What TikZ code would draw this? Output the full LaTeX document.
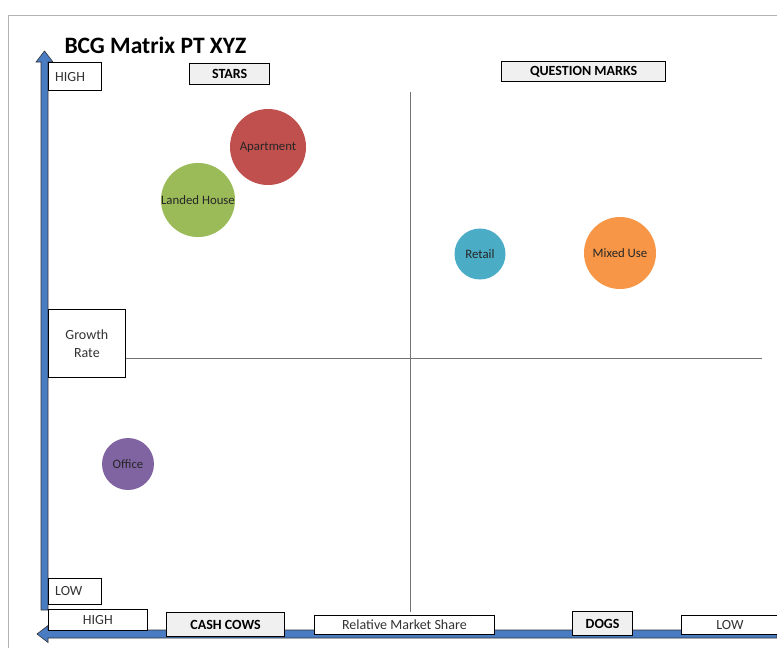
\documentclass[tikz,border=0pt]{standalone}
\usepackage{fontspec}
\setmainfont{Carlito}
\begin{document}
\begin{tikzpicture}[x=1pt,y=-1pt,
  lbl/.style={draw=black, line width=0.8pt, fill=white, inner sep=0pt, font=\fontsize{14}{15}\selectfont, text=black!80},
  head/.style={draw=black, line width=1.2pt, fill=black!6, inner sep=0pt, font=\bfseries\fontsize{14}{15}\selectfont},
  bubble/.style={circle, inner sep=0pt, font=\fontsize{12.8}{14}\selectfont, text=black!85},
  axis/.style={draw=black!80, line width=0.6pt, fill=axisblue},
  divider/.style={draw=black!55, line width=0.7pt}]
\definecolor{axisblue}{HTML}{4A7CC4}
\definecolor{cRed}{HTML}{C0504D}
\definecolor{cGreen}{HTML}{9BBB59}
\definecolor{cBlue}{HTML}{4BACC6}
\definecolor{cOrange}{HTML}{F79646}
\definecolor{cPurple}{HTML}{8064A2}
\useasboundingbox (0,0) rectangle (777,648);
\fill[white] (0,0) rectangle (777,648);
% frame
\draw[black!30, line width=0.8pt] (777,15) -- (8,15) -- (8,648);

% title
\node[anchor=west, font=\bfseries\fontsize{23.5}{26}\selectfont] (title) at (61,45) {BCG Matrix PT XYZ};

% quadrant dividers
\coordinate (vtop) at (410,92);
\coordinate (vbot) at (410,612);
\coordinate (hleft) at (125,358);
\coordinate (hright) at (762,358);
\draw[divider] (vtop) -- (vbot);
\draw[divider] (hleft) -- (hright);

% vertical axis arrow (growth rate)
\draw[axis] (41,610) -- (41,62) -- (36,62) -- (44.5,51) -- (53,62) -- (48,62) -- (48,610) -- cycle;
% horizontal axis arrow (relative market share)
\draw[axis] (777,630) -- (48,630) -- (48,625.5) -- (37,634) -- (48,642.5) -- (48,638) -- (777,638) -- cycle;

% axis labels
\node[lbl, minimum width=53, minimum height=28, anchor=north west] (hiY) at (48,62) {};
\node[anchor=west, inner sep=0pt, font=\fontsize{14}{15}\selectfont, text=black!80] at (55,77) {HIGH};
\node[lbl, minimum width=77, minimum height=68, anchor=north west, align=center] (growth) at (48,309) {Growth\\[3pt]Rate};
\node[lbl, minimum width=53, minimum height=26, anchor=north west] (loY) at (48,578) {};
\node[anchor=west, inner sep=0pt, font=\fontsize{14}{15}\selectfont, text=black!80] at (55,591) {LOW};
\node[lbl, minimum width=99, minimum height=21, anchor=north west] (hiX) at (48,609) {HIGH};
\node[lbl, minimum width=180, minimum height=19, anchor=north west] (rms) at (314,615) {Relative Market Share};
\node[lbl, minimum width=97, minimum height=19, anchor=north west] (loX) at (681,615) {LOW};

% quadrant headings
\node[head, minimum width=80, minimum height=21, anchor=north west] (stars) at (189,63) {STARS};
\node[head, minimum width=164, minimum height=20, anchor=north west] (qm) at (501,61) {QUESTION MARKS};
\node[head, minimum width=118, minimum height=24, anchor=north west] (cows) at (166,612) {CASH COWS};
\node[head, minimum width=60, minimum height=24, anchor=north west] (dogs) at (572,611) {DOGS};

% portfolio bubbles
\node[bubble, fill=cRed, minimum size=76] (apt) at (268,147) {Apartment};
\node[bubble, fill=cGreen, minimum size=67] (landed) at (198,200) {Landed House};
\node[bubble, fill=cBlue, minimum size=51] (retail) at (480,254) {Retail};
\node[bubble, fill=cOrange, minimum size=72] (mixed) at (620,253) {Mixed Use};
\node[bubble, fill=cPurple, minimum size=52] (office) at (128,464) {Office};
\end{tikzpicture}
\end{document}
